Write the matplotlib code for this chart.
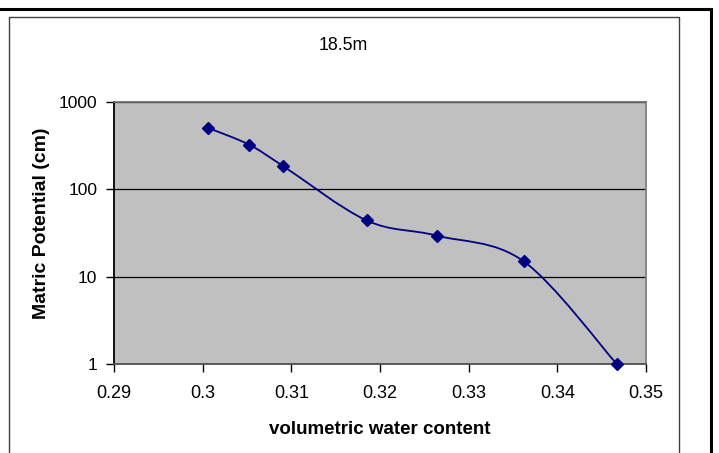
import numpy as np
import matplotlib
matplotlib.use("Agg")
from matplotlib import pyplot as plt
from matplotlib.path import Path
from matplotlib.patches import PathPatch
from matplotlib.ticker import FixedLocator, NullLocator, FuncFormatter

# data
water_content = [0.3006, 0.3052, 0.3091, 0.3185, 0.3264, 0.3362, 0.3467]
matric_potential = [505, 326, 184, 44, 29.5, 15, 1]
x_ticks = [0.29, 0.30, 0.31, 0.32, 0.33, 0.34, 0.35]
x_tick_labels = ["0.29", "0.3", "0.31", "0.32", "0.33", "0.34", "0.35"]
y_ticks = [1, 10, 100, 1000]

plt.rcParams['font.family'] = ['Liberation Sans', 'DejaVu Sans']
navy = "#000080"

W, H = 719, 453
fig = plt.figure(figsize=(W / 100, H / 100), dpi=100)


def fx(px):
    return px / W


def fy(py):
    return 1 - py / H


# outer frame: thick top and right line, thin inner box
fig.add_artist(plt.Line2D([0, fx(711)], [fy(8.5), fy(8.5)], color="black", lw=2.2))
fig.add_artist(plt.Line2D([fx(711), fx(711)], [fy(8.5), 0], color="black", lw=2.2))
fig.add_artist(plt.Line2D([fx(9), fx(9), fx(679), fx(679)], [0, fy(17), fy(17), 0],
                          color="#404040", lw=1.0))

left, right, top, bottom = 114, 646, 102, 364
ax = fig.add_axes([fx(left), fy(bottom), fx(right) - fx(left), fy(top) - fy(bottom)])
ax.set_facecolor("#C0C0C0")
ax.set_yscale("log")
ax.set_xlim(0.29, 0.35)
ax.set_ylim(1, 1000)

# smoothed line (Catmull-Rom style bezier, built in x / log y space)
lx = np.array(water_content)
ly = np.log10(matric_potential)
verts = [(lx[0], 10 ** ly[0])]
codes = [Path.MOVETO]
n = len(lx)
for i in range(n - 1):
    p0 = (lx[max(i - 1, 0)], ly[max(i - 1, 0)])
    p1 = (lx[i], ly[i])
    p2 = (lx[i + 1], ly[i + 1])
    p3 = (lx[min(i + 2, n - 1)], ly[min(i + 2, n - 1)])
    c1 = (p1[0] + (p2[0] - p0[0]) / 6, p1[1] + (p2[1] - p0[1]) / 6)
    c2 = (p2[0] - (p3[0] - p1[0]) / 6, p2[1] - (p3[1] - p1[1]) / 6)
    for c in (c1, c2, p2):
        verts.append((c[0], 10 ** c[1]))
        codes.append(Path.CURVE4)
ax.add_patch(PathPatch(Path(verts, codes), facecolor="none", edgecolor=navy, lw=1.3,
                       zorder=3, clip_on=False))
ax.plot(water_content, matric_potential, linestyle="none", marker="D", markersize=6,
        color=navy, zorder=4, clip_on=False)

for v in y_ticks[1:]:
    ax.axhline(v, color="black", lw=0.9, zorder=1)

ax.spines["left"].set_color("black")
ax.spines["bottom"].set_color("#505050")
ax.spines["top"].set_color("#707070")
ax.spines["right"].set_color("#808080")
for s in ax.spines.values():
    s.set_linewidth(1.3)

ax.xaxis.set_major_locator(FixedLocator(x_ticks))
ax.set_xticklabels(x_tick_labels)
ax.yaxis.set_major_locator(FixedLocator(y_ticks))
ax.yaxis.set_minor_locator(NullLocator())
ax.yaxis.set_major_formatter(FuncFormatter(lambda v, p: f"{v:g}"))
ax.tick_params(axis="both", direction="out", length=6, width=1, color="black")
ax.tick_params(axis="x", pad=9, labelsize=13)
ax.tick_params(axis="y", pad=6, labelsize=12.5)

ax.set_xlabel("volumetric water content", fontsize=13.5, fontweight="bold", va="center")
ax.xaxis.set_label_coords((380 - left) / (right - left), (bottom - 430) / (bottom - top))
ax.set_ylabel("Matric Potential (cm)", fontsize=14, fontweight="bold", va="center")
ax.yaxis.set_label_coords((41.7 - left) / (right - left), (bottom - 223) / (bottom - top))
fig.text(fx(343.5), fy(45), "18.5m", ha="center", va="center", fontsize=12.8)

fig.savefig("out.png", dpi=100)
